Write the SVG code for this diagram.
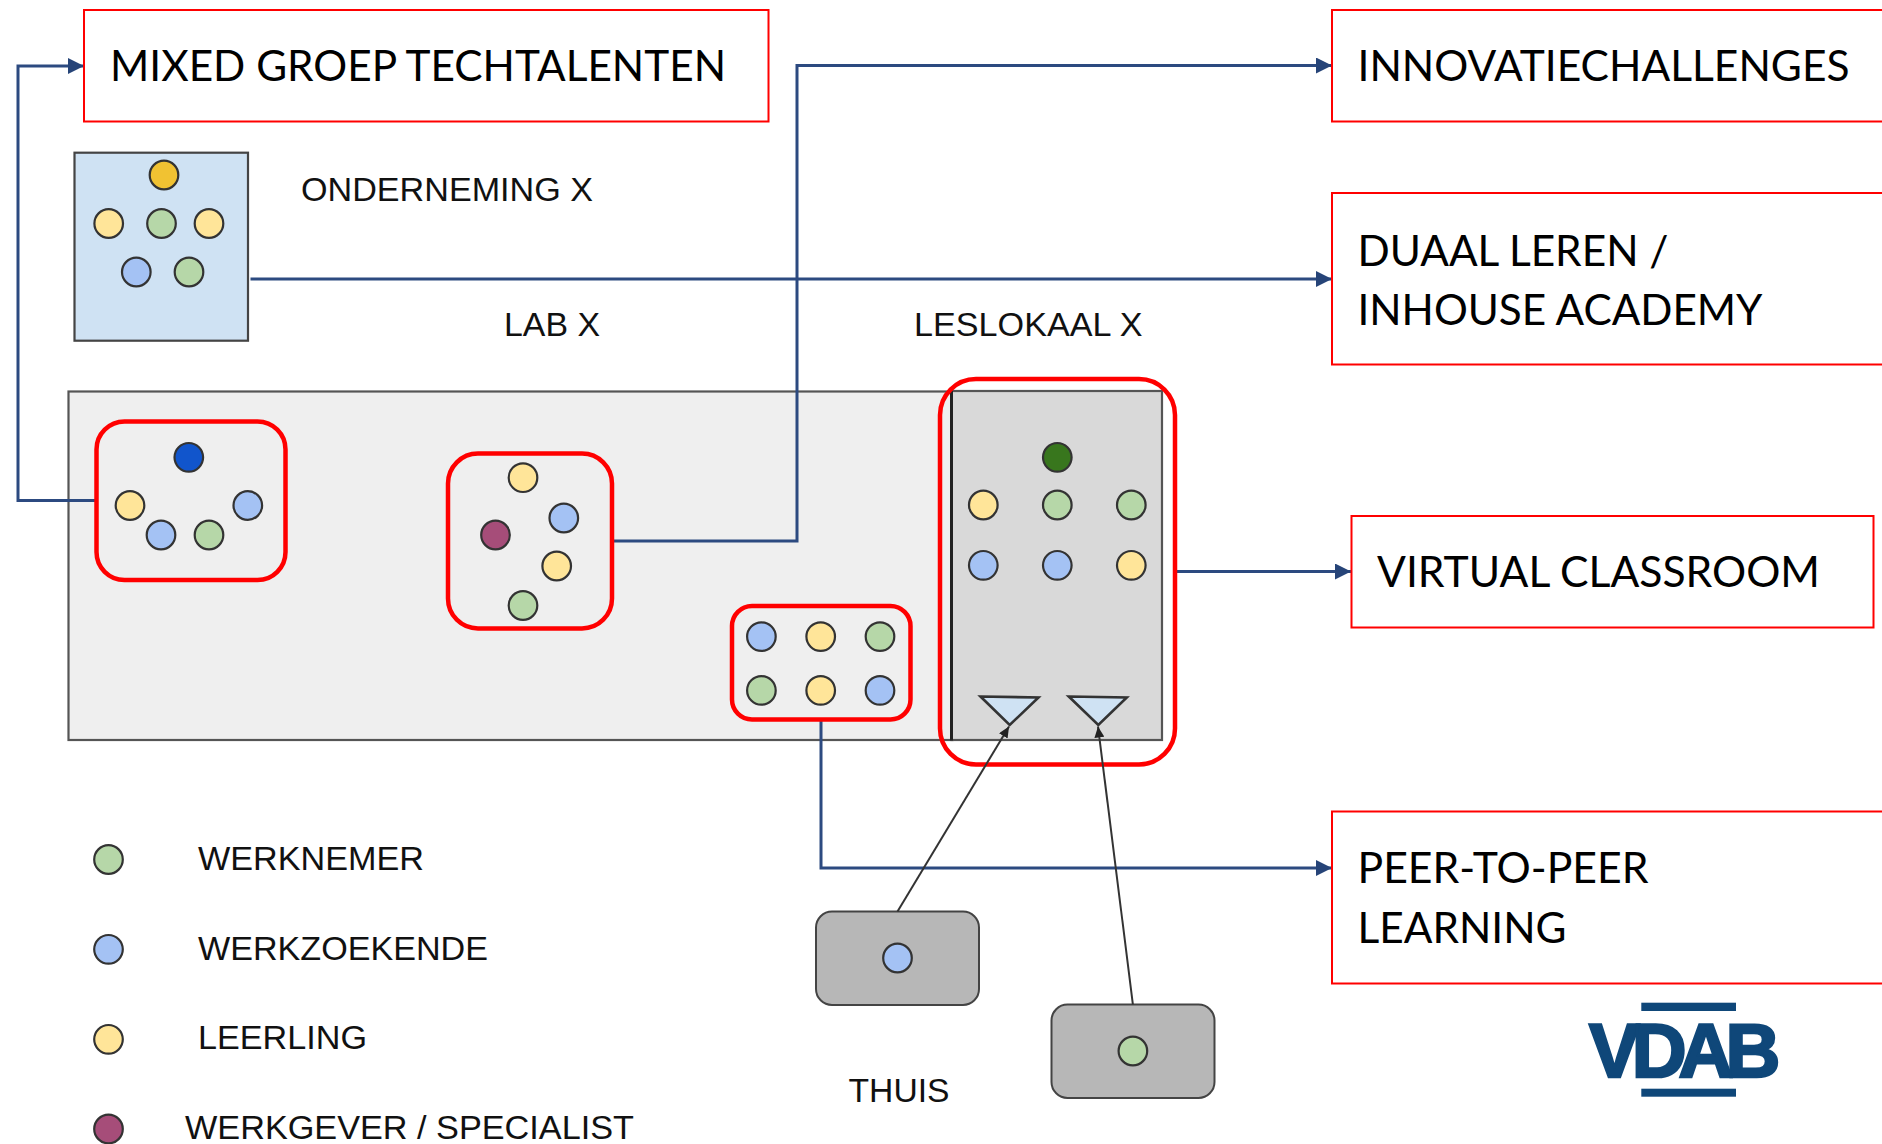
<svg xmlns="http://www.w3.org/2000/svg" width="1882" height="1144" viewBox="0 0 1882 1144">
<style>
.c{stroke:#333;stroke-width:2.2}
.y{fill:#ffe599}.g{fill:#b6d7a8}.b{fill:#a4c2f4}.p{fill:#a64d79}
.box{fill:#fff;stroke:#f00;stroke-width:2}
.grp{fill:none;stroke:#f00;stroke-width:4.5}
.t{font-family:"Lato","Noto Sans",sans-serif;font-size:43px;fill:#000}
.l{font-family:"Liberation Sans",Arial,sans-serif;font-size:33.5px;fill:#111}
.nav{fill:none;stroke:#2c4a80;stroke-width:3}
.blk{fill:none;stroke:#333;stroke-width:2}
.home{fill:#b7b7b7;stroke:#444;stroke-width:2}
.tri{fill:#cfe2f3;stroke:#333;stroke-width:2.6}
</style>
<defs>
<marker id="an" markerUnits="userSpaceOnUse" markerWidth="16" markerHeight="16" refX="16" refY="8" orient="auto"><path d="M0 0L16 8L0 16Z" fill="#264478"/></marker>
<marker id="ab" markerUnits="userSpaceOnUse" markerWidth="11" markerHeight="10" refX="11" refY="5" orient="auto"><path d="M0 0L11 5L0 10Z" fill="#222"/></marker>
</defs>
<rect width="1882" height="1144" fill="#fff"/>

<g id="lab-area"><rect x="68.500" y="391.500" width="884" height="348.500" fill="#efefef" stroke="#555" stroke-width="2.200"/></g>
<g id="leslokaal-area"><rect x="951.500" y="391" width="210.500" height="349" fill="#d9d9d9" stroke="#555" stroke-width="2.200"/><path d="M951.500 390.500V740.500" stroke="#222" stroke-width="3" fill="none"/></g>

<g id="connectors">
<path class="nav" d="M96 500.500H18V66H84" marker-end="url(#an)"/>
<path class="nav" d="M612.500 541H797V65.500H1332" marker-end="url(#an)"/>
<path class="nav" d="M250.500 279H1332" marker-end="url(#an)"/>
<path class="nav" d="M1175 571.500H1351" marker-end="url(#an)"/>
<path class="nav" d="M821 719V868H1332" marker-end="url(#an)"/>
</g>

<g id="mixed-groep"><rect class="box" x="84" y="10" width="684.500" height="111.500"/><text class="t" x="110" y="81" textLength="616" lengthAdjust="spacingAndGlyphs">MIXED GROEP TECHTALENTEN</text></g>
<g id="innovatiechallenges"><rect class="box" x="1332" y="10" width="560" height="111.500"/><text class="t" x="1357.500" y="81" textLength="492" lengthAdjust="spacingAndGlyphs">INNOVATIECHALLENGES</text></g>
<g id="duaal-leren"><rect class="box" x="1332" y="193" width="560" height="171.500"/><text class="t" x="1357.500" y="265.500" textLength="311" lengthAdjust="spacingAndGlyphs">DUAAL LEREN /</text><text class="t" x="1357.500" y="324.500" textLength="405" lengthAdjust="spacingAndGlyphs">INHOUSE ACADEMY</text></g>
<g id="virtual-classroom"><rect class="box" x="1351.500" y="516" width="522" height="111.500"/><text class="t" x="1377" y="587" textLength="443" lengthAdjust="spacingAndGlyphs">VIRTUAL CLASSROOM</text></g>
<g id="peer-to-peer"><rect class="box" x="1332" y="811.500" width="560" height="172"/><text class="t" x="1357.500" y="883" textLength="291" lengthAdjust="spacingAndGlyphs">PEER-TO-PEER</text><text class="t" x="1357.500" y="942.500" textLength="209" lengthAdjust="spacingAndGlyphs">LEARNING</text></g>

<g id="onderneming-x">
<rect x="74.500" y="152.700" width="173.500" height="188" fill="#cfe2f3" stroke="#444" stroke-width="2.200"/>
<circle class="c" cx="164" cy="175" r="14.300" fill="#f1c232"/>
<circle class="c y" cx="108.700" cy="223.500" r="14.300"/>
<circle class="c g" cx="161.500" cy="223.500" r="14.300"/>
<circle class="c y" cx="209" cy="223.500" r="14.300"/>
<circle class="c b" cx="136.300" cy="272" r="14.300"/>
<circle class="c g" cx="189" cy="272" r="14.300"/>
<text class="l" x="301" y="201" textLength="292" lengthAdjust="spacingAndGlyphs">ONDERNEMING X</text>
</g>

<g id="lab-x-label"><text class="l" x="504" y="336" textLength="96" lengthAdjust="spacingAndGlyphs">LAB X</text></g>
<g id="leslokaal-x-label"><text class="l" x="914" y="336" textLength="228.500" lengthAdjust="spacingAndGlyphs">LESLOKAAL X</text></g>

<g id="group-techtalenten">
<rect class="grp" x="96.500" y="421.500" width="189" height="158.500" rx="28"/>
<circle class="c" cx="188.800" cy="457.300" r="14.300" fill="#1155cc"/>
<circle class="c y" cx="130" cy="505.500" r="14.300"/>
<circle class="c b" cx="247.800" cy="505.500" r="14.300"/>
<circle class="c b" cx="161" cy="535" r="14.300"/>
<circle class="c g" cx="209" cy="535" r="14.300"/>
</g>
<g id="group-innovatie">
<rect class="grp" x="448" y="453.500" width="164" height="175" rx="30"/>
<circle class="c y" cx="523" cy="477.700" r="14.300"/>
<circle class="c b" cx="563.800" cy="518" r="14.300"/>
<circle class="c p" cx="495.500" cy="535" r="14.300"/>
<circle class="c y" cx="556.700" cy="566" r="14.300"/>
<circle class="c g" cx="523" cy="605.500" r="14.300"/>
</g>
<g id="group-peer">
<rect class="grp" x="732" y="606" width="178.500" height="113.500" rx="20"/>
<circle class="c b" cx="761.400" cy="636.600" r="14.300"/>
<circle class="c y" cx="820.700" cy="636.600" r="14.300"/>
<circle class="c g" cx="880" cy="636.600" r="14.300"/>
<circle class="c g" cx="761.400" cy="690.400" r="14.300"/>
<circle class="c y" cx="820.700" cy="690.400" r="14.300"/>
<circle class="c b" cx="880" cy="690.400" r="14.300"/>
</g>
<g id="group-classroom">
<circle class="c" cx="1057.300" cy="457.300" r="14.300" fill="#38761d"/>
<circle class="c y" cx="983.300" cy="505" r="14.300"/>
<circle class="c g" cx="1057.300" cy="505" r="14.300"/>
<circle class="c g" cx="1131.300" cy="505" r="14.300"/>
<circle class="c b" cx="983.300" cy="565.300" r="14.300"/>
<circle class="c b" cx="1057.300" cy="565.300" r="14.300"/>
<circle class="c y" cx="1131.300" cy="565.300" r="14.300"/>
<path class="tri" d="M980.500 696.500L1038.500 697.500L1009.700 725Z"/>
<path class="tri" d="M1068.800 696.500L1126.800 697.500L1098.300 725Z"/>
<rect class="grp" x="940" y="379" width="235" height="385.500" rx="36"/>
</g>

<g id="home-1"><rect class="home" x="816" y="911.500" width="163" height="93.500" rx="16"/><circle class="c b" cx="897.500" cy="958" r="14.300"/></g>
<g id="home-2"><rect class="home" x="1051.500" y="1004.500" width="163" height="93.500" rx="16"/><circle class="c g" cx="1132.900" cy="1051" r="14.300"/></g>
<g id="connectors-home">
<path class="blk" d="M897.500 911.500L1009 726.500" marker-end="url(#ab)"/>
<path class="blk" d="M1132.900 1004.500L1098 726.500" marker-end="url(#ab)"/>
</g>
<g id="thuis-label"><text class="l" x="848.500" y="1102" textLength="101" lengthAdjust="spacingAndGlyphs">THUIS</text></g>

<g id="legend">
<circle class="c g" cx="108.500" cy="859.500" r="14.300"/><text class="l" x="198" y="869.700" textLength="226" lengthAdjust="spacingAndGlyphs">WERKNEMER</text>
<circle class="c b" cx="108.500" cy="949.300" r="14.300"/><text class="l" x="198" y="959.700" textLength="290" lengthAdjust="spacingAndGlyphs">WERKZOEKENDE</text>
<circle class="c y" cx="108.500" cy="1039.300" r="14.300"/><text class="l" x="198" y="1049.300" textLength="169" lengthAdjust="spacingAndGlyphs">LEERLING</text>
<circle class="c p" cx="108.500" cy="1129" r="14.300"/><text class="l" x="185" y="1139" textLength="449" lengthAdjust="spacingAndGlyphs">WERKGEVER / SPECIALIST</text>
</g>

<g id="logo-vdab">
<rect x="1641.300" y="1002.700" width="94.700" height="8.300" fill="#0f4779"/>
<rect x="1641.300" y="1088.700" width="94.700" height="8" fill="#0f4779"/>
<text x="1589" y="1076.500" font-family="'Liberation Sans',Arial,sans-serif" font-weight="700" font-size="76px" letter-spacing="-8px" fill="#0f4779" stroke="#0f4779" stroke-width="2.500">VDAB</text>
</g>
</svg>
